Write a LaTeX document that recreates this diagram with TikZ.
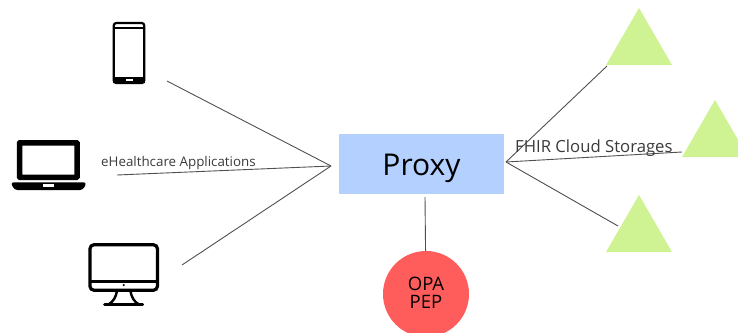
\documentclass[tikz,border=0pt]{standalone}
\usepackage{fontspec}
\setmainfont{Open Sans}
\usetikzlibrary{shapes.geometric}

\definecolor{proxyblue}{HTML}{B3D0FF}
\definecolor{storagegreen}{HTML}{CFF293}
\definecolor{peppink}{HTML}{FF5C5C}
\definecolor{linkgray}{HTML}{505050}
\definecolor{labelgray}{HTML}{3A3A3A}

\begin{document}
\begin{tikzpicture}[
        x=1pt, y=-1pt,
        proxybox/.style={
            fill=proxyblue, minimum width=165pt, minimum height=60pt,
            inner sep=0pt, font=\fontsize{30}{36}\selectfont
        },
        pepcircle/.style={
            circle, fill=peppink, minimum size=86pt, inner sep=0pt,
            align=center, font=\fontsize{18.5}{18.5}\selectfont
        },
        storage/.style={
            regular polygon, regular polygon sides=3, fill=storagegreen,
            minimum size=76.2pt, inner sep=0pt
        },
        screenbox/.style={
            draw=black, fill=white, inner sep=0pt
        },
        link/.style={draw=linkgray, line width=0.9pt},
        caption/.style={text=labelgray, inner sep=0pt, font=\fontsize{13.35}{15}\selectfont}
        ]

        \useasboundingbox (0,0) rectangle (738,332);
        \clip (0,0) rectangle (738,332);

        % --- Middle: proxy and its decision point ---
        \node[proxybox] (proxy) at (421.5,164) {\smash{\raisebox{-11pt}{Proxy}}};
        \node[pepcircle] (pep) at (426,294) {\raisebox{2pt}{OPA}\\\raisebox{2pt}{PEP}};

        % --- Right: storages ---
        \node[storage] (storeA) at (639,46) {};
        \node[storage] (storeB) at (715,138) {};
        \node[storage] (storeC) at (639,233) {};

        % --- Left: phone ---
        \node[screenbox, line width=2.2pt, rounded corners=2.5pt,
            minimum width=30.5pt, minimum height=60pt] (phone) at (129,53) {};
        \fill (113,27) rectangle (145,29);
        \fill (113,77) rectangle (145,83);
        \node[fill=white, minimum width=6.5pt, minimum height=2pt, inner sep=0pt]
            (phonebutton) at (129.5,80.3) {};

        % --- Left: laptop ---
        \node[screenbox, line width=5.5pt, rounded corners=0.5pt,
            minimum width=57.5pt, minimum height=34.5pt] (laptop) at (48.3,160) {};
        \fill[rounded corners=3pt] (10.7,182.3) -- (86.7,182.3) -- (83,190) -- (14.4,190) -- cycle;
        \node[fill=white, minimum width=11pt, minimum height=2.3pt, inner sep=0pt]
            (laptopnotch) at (48.3,185.5) {};

        % --- Left: desktop ---
        \node[screenbox, line width=3.2pt, rounded corners=4pt,
            minimum width=67.5pt, minimum height=45.5pt] (desktop) at (123.7,267.5) {};
        \fill (89,280.4) rectangle (158,283);
        \fill (123.7,285) circle (1.2pt);
        \draw[line width=2.4pt] (117,291) .. controls (116,297) and (113,302) .. (109,304);
        \draw[line width=2.4pt] (130.4,291) .. controls (131.4,297) and (134.4,302) .. (138.4,304);
        \draw[line width=2.6pt, line cap=round] (104.5,304.2) -- (142.8,304.2);

        % --- Connector ends ---
        \coordinate (hubL) at (331,166);
        \coordinate (hubR) at (506,162);
        \coordinate (phoneEnd) at (167,81);
        \coordinate (laptopEnd) at (117,175);
        \coordinate (desktopEnd) at (182,265);
        \coordinate (storeAEnd) at (607,66);
        \coordinate (storeBEnd) at (682,152);
        \coordinate (storeCEnd) at (618,226);
        \coordinate (proxyEnd) at (425,197);

        % --- Lines ---
        \draw[link] (phoneEnd) -- (hubL);
        \draw[link] (laptopEnd) -- (hubL);
        \draw[link] (desktopEnd) -- (hubL);
        \draw[link] (hubR) -- (storeAEnd);
        \draw[link] (hubR) -- (storeBEnd);
        \draw[link] (hubR) -- (storeCEnd);
        \draw[link] (proxyEnd) -- (pep);

        % --- Labels ---
        \node[caption, anchor=base west] (appslabel) at (101,166) {eHealthcare Applications};
        \node[caption, anchor=base west, font=\fontsize{16.7}{19}\selectfont] (fhirlabel) at (515,152) {FHIR Cloud Storages};

\end{tikzpicture}
\end{document}
